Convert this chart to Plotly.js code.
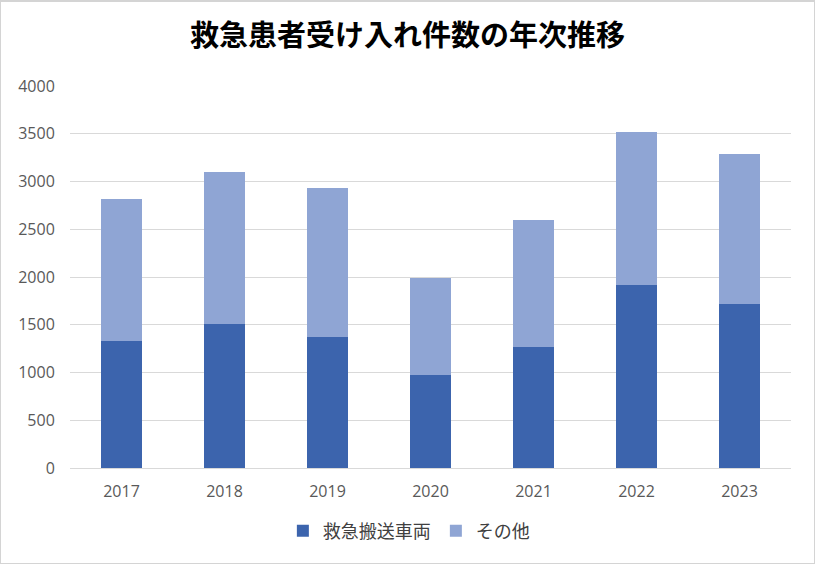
<!DOCTYPE html>
<html>
<head>
<meta charset="utf-8">
<script src="https://cdn.plot.ly/plotly-3.0.1.min.js"></script>
<style>
html,body{margin:0;padding:0;background:#fff;}
#chart{width:813px;height:561px;border:1px solid #d4d4d4;border-top:2px solid #d4d4d4;}
</style>
</head>
<body>
<div id="chart"></div>
<script>
const years = ['2017','2018','2019','2020','2021','2022','2023'];
const ambulance = [1331, 1509, 1373, 975, 1271, 1916, 1718];
const other = [1485, 1589, 1558, 1015, 1325, 1600, 1568];
const seriesNames = ['救急搬送車両', 'その他'];
const yTicks = [0, 500, 1000, 1500, 2000, 2500, 3000, 3500, 4000];

const traces = [
  {type:'bar', name:seriesNames[0], x:years, y:ambulance, marker:{color:'#3c64ad'}, hoverinfo:'x+y+name'},
  {type:'bar', name:seriesNames[1], x:years, y:other, marker:{color:'#8fa5d4'}, hoverinfo:'x+y+name'}
];

const layout = {
  width:813, height:561,
  margin:{l:69, r:23, t:84, b:95},
  paper_bgcolor:'#fff', plot_bgcolor:'#fff',
  barmode:'stack', bargap:0.6,
  font:{family:'"Noto Sans CJK JP", "Open Sans", sans-serif', color:'#595959'},
  title:{text:'救急患者受け入れ件数の年次推移', x:0.5, xanchor:'center', y:0.94, yanchor:'middle',
         font:{family:'"Noto Sans CJK JP", sans-serif', size:29, color:'#000', weight:'bold'}},
  xaxis:{type:'category', showgrid:false, showline:true, linecolor:'#d9d9d9', linewidth:1,
         ticks:'outside', ticklen:9, tickcolor:'rgba(0,0,0,0)',
         tickfont:{family:'"Open Sans", sans-serif', size:16, color:'#595959'}},
  yaxis:{range:[0,4000], tickvals:yTicks, showgrid:true, gridcolor:'#d9d9d9', gridwidth:1,
         zeroline:false, showline:false,
         ticks:'outside', ticklen:11, tickcolor:'rgba(0,0,0,0)',
         tickfont:{family:'"Open Sans", sans-serif', size:16, color:'#595959'}},
  legend:{orientation:'h', x:0.47, xanchor:'center', y:-0.165, yanchor:'middle',
          font:{family:'"Noto Sans CJK JP", sans-serif', size:18, color:'#404040'},
          itemwidth:30, traceorder:'normal'},
  showlegend:true
};

Plotly.newPlot('chart', traces, layout, {displayModeBar:false, staticPlot:true});
</script>
</body>
</html>
